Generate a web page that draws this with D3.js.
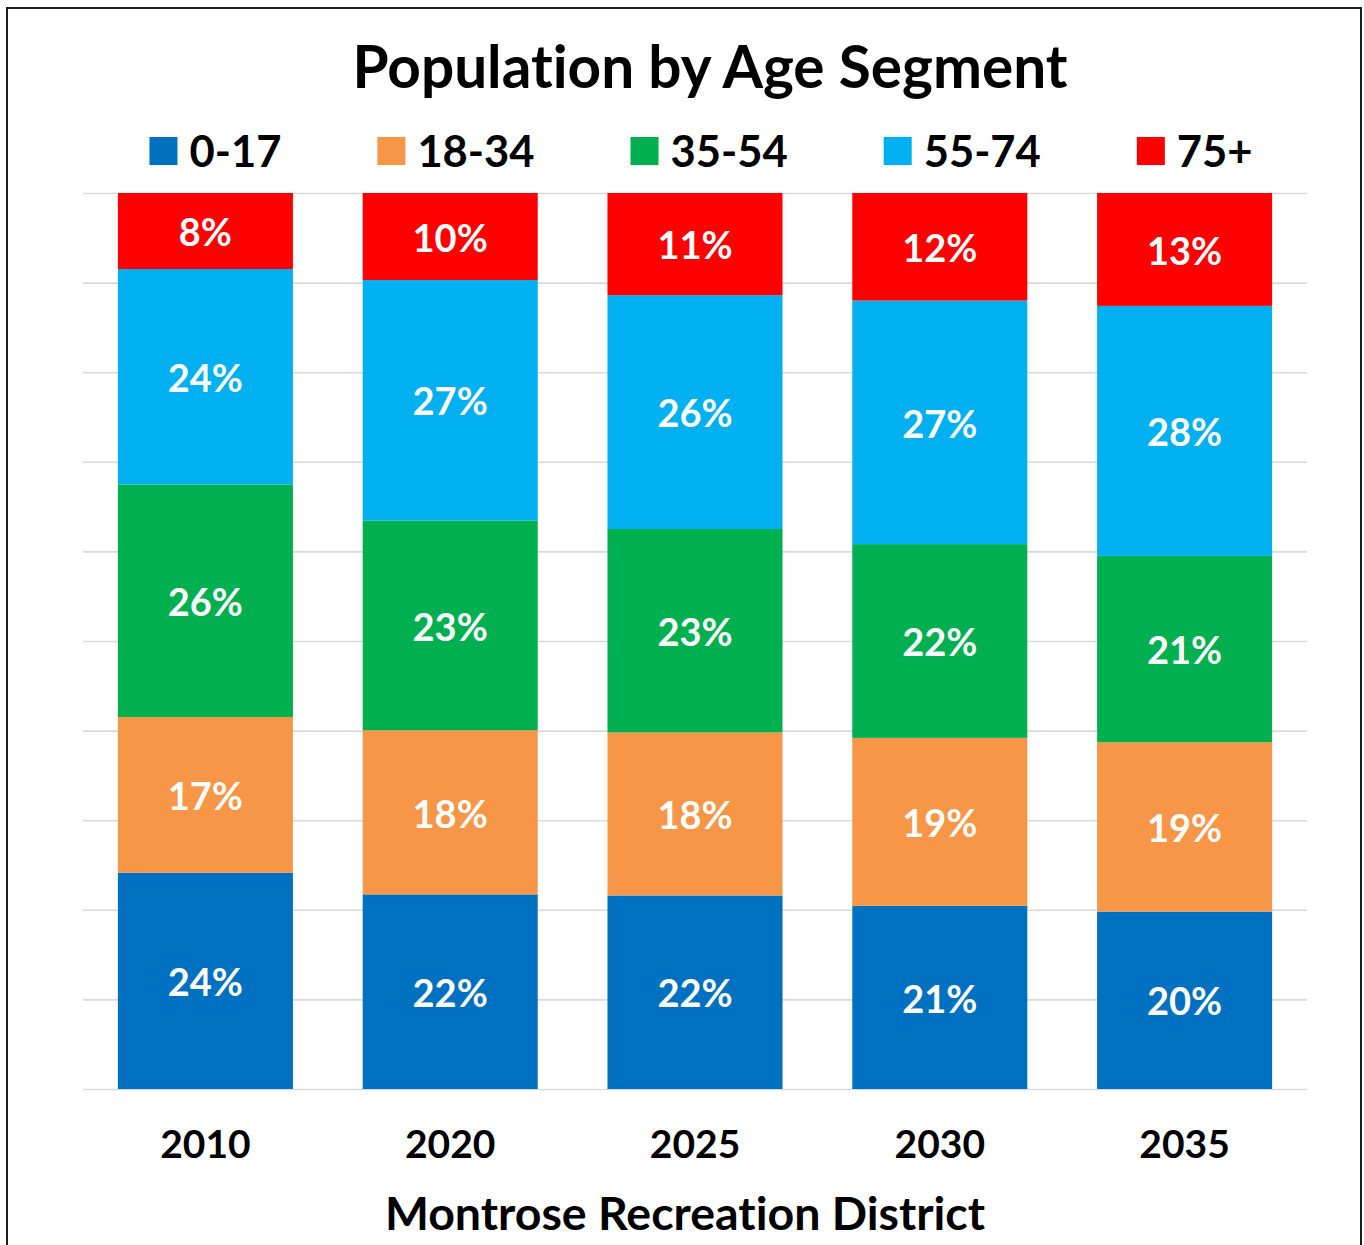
<!DOCTYPE html>
<html>
<head>
<meta charset="utf-8">
<script src="https://cdn.jsdelivr.net/npm/d3@7"></script>
<style>
  html, body { margin: 0; padding: 0; background: #ffffff; }
  svg { display: block; }
  text { font-family: Lato, "Open Sans", "Liberation Sans", sans-serif; font-weight: 700; font-variant-ligatures: none; }
</style>
</head>
<body>
<svg id="chart" width="1364" height="1245"></svg>
<script>
// Census years and projections
const years = ["2010", "2020", "2025", "2030", "2035"];
// Age segments, bottom to top in each column
const segments = ["0-17", "18-34", "35-54", "55-74", "75+"];
const segmentColors = ["#0070C0", "#F79646", "#00B050", "#00B0F0", "#FF0000"];

// Share of population (%) per segment, one entry per year
const age0to17  = [23.9, 21.7, 21.6, 20.6, 19.8];
const age18to34 = [17.2, 18.3, 18.2, 18.9, 18.9];
const age35to54 = [25.7, 23.4, 22.7, 21.8, 20.8];
const age55to74 = [23.8, 26.8, 26.1, 27.4, 27.9];
const age75plus = [8.4, 9.7, 11.4, 12.1, 12.6];

const gridTicks = [0, 0.1, 0.2, 0.3, 0.4, 0.5, 0.6, 0.7, 0.8, 0.9, 1.0];

const titleText = "Population by Age Segment";
const xTitleText = "Montrose Recreation District";

const seriesValues = [age0to17, age18to34, age35to54, age55to74, age75plus];
const rows = years.map((yr, i) => {
  const row = { year: yr };
  segments.forEach((s, j) => { row[s] = seriesValues[j][i]; });
  return row;
});

const plot = { left: 83, right: 1307, top: 193, bottom: 1089 };

const svg = d3.select("#chart");

// Outer frame (runs past the bottom edge)
svg.append("rect")
  .attr("x", 7).attr("y", 8)
  .attr("width", 1354).attr("height", 1300)
  .attr("fill", "#ffffff")
  .attr("stroke", "#1e1e1e")
  .attr("stroke-width", 2);

const x = d3.scaleBand()
  .domain(years)
  .range([plot.left, plot.right])
  .paddingInner(0.285)
  .paddingOuter(0.1425);

const y = d3.scaleLinear()
  .domain([0, 1])
  .range([plot.bottom, plot.top]);

const color = d3.scaleOrdinal().domain(segments).range(segmentColors);

// Horizontal gridlines
const grid = svg.append("g")
  .attr("transform", `translate(${plot.left},0)`)
  .call(d3.axisLeft(y).tickValues(gridTicks).tickSize(-(plot.right - plot.left)).tickFormat(""));
grid.select(".domain").remove();
grid.selectAll(".tick line").attr("stroke", "#D9D9D9").attr("stroke-width", 1.6);

// 100% stacked columns
const stack = d3.stack().keys(segments).offset(d3.stackOffsetExpand);
const layers = stack(rows);

const layerG = svg.append("g").selectAll("g.layer")
  .data(layers)
  .join("g")
  .attr("class", "layer")
  .attr("fill", d => color(d.key));

layerG.selectAll("rect")
  .data(d => d)
  .join("rect")
  .attr("x", d => x(d.data.year))
  .attr("width", x.bandwidth())
  .attr("y", d => y(d[1]))
  .attr("height", d => y(d[0]) - y(d[1]));

// Value labels, centred in each segment
const labelG = svg.append("g").selectAll("g.lab")
  .data(layers)
  .join("g")
  .attr("class", "lab");

labelG.selectAll("text")
  .data(d => d.map(p => ({ p, key: d.key })))
  .join("text")
  .attr("x", d => x(d.p.data.year) + x.bandwidth() / 2)
  .attr("y", d => (y(d.p[0]) + y(d.p[1])) / 2)
  .attr("dy", "0.4em")
  .attr("text-anchor", "middle")
  .attr("fill", "#ffffff")
  .attr("font-size", 38)
  .text(d => Math.round(d.p.data[d.key]) + "%");

// Category axis
const xAxis = svg.append("g")
  .attr("transform", `translate(0,${plot.bottom})`)
  .call(d3.axisBottom(x).tickSize(0).tickPadding(41));
xAxis.select(".domain").remove();
xAxis.selectAll("text")
  .attr("font-size", 39)
  .attr("font-family", "Lato, 'Open Sans', sans-serif")
  .attr("font-weight", 700)
  .attr("fill", "#000000");

// Axis title
svg.append("text")
  .attr("x", 685).attr("y", 1230)
  .attr("text-anchor", "middle")
  .attr("font-size", 46.5)
  .attr("fill", "#000000")
  .text(xTitleText);

// Chart title
svg.append("text")
  .attr("x", 710).attr("y", 88)
  .attr("text-anchor", "middle")
  .attr("font-size", 58.5)
  .attr("fill", "#000000")
  .text(titleText);

// Legend, laid out left to right from measured label widths
const legend = svg.append("g");
const sw = 28, swGap = 12, itemGap = 96, legendFont = 43.5;
let cursor = 0;
segments.forEach(s => {
  const item = legend.append("g").attr("transform", `translate(${cursor},0)`);
  item.append("rect")
    .attr("x", 0).attr("y", -sw / 2)
    .attr("width", sw).attr("height", sw)
    .attr("fill", color(s));
  const t = item.append("text")
    .attr("x", sw + swGap).attr("y", 0)
    .attr("dy", "0.37em")
    .attr("font-size", legendFont)
    .attr("fill", "#000000")
    .text(s);
  cursor += sw + swGap + t.node().getComputedTextLength() + itemGap;
});
const legendWidth = cursor - itemGap;
legend.attr("transform", `translate(${701 - legendWidth / 2},151)`);
</script>
</body>
</html>
